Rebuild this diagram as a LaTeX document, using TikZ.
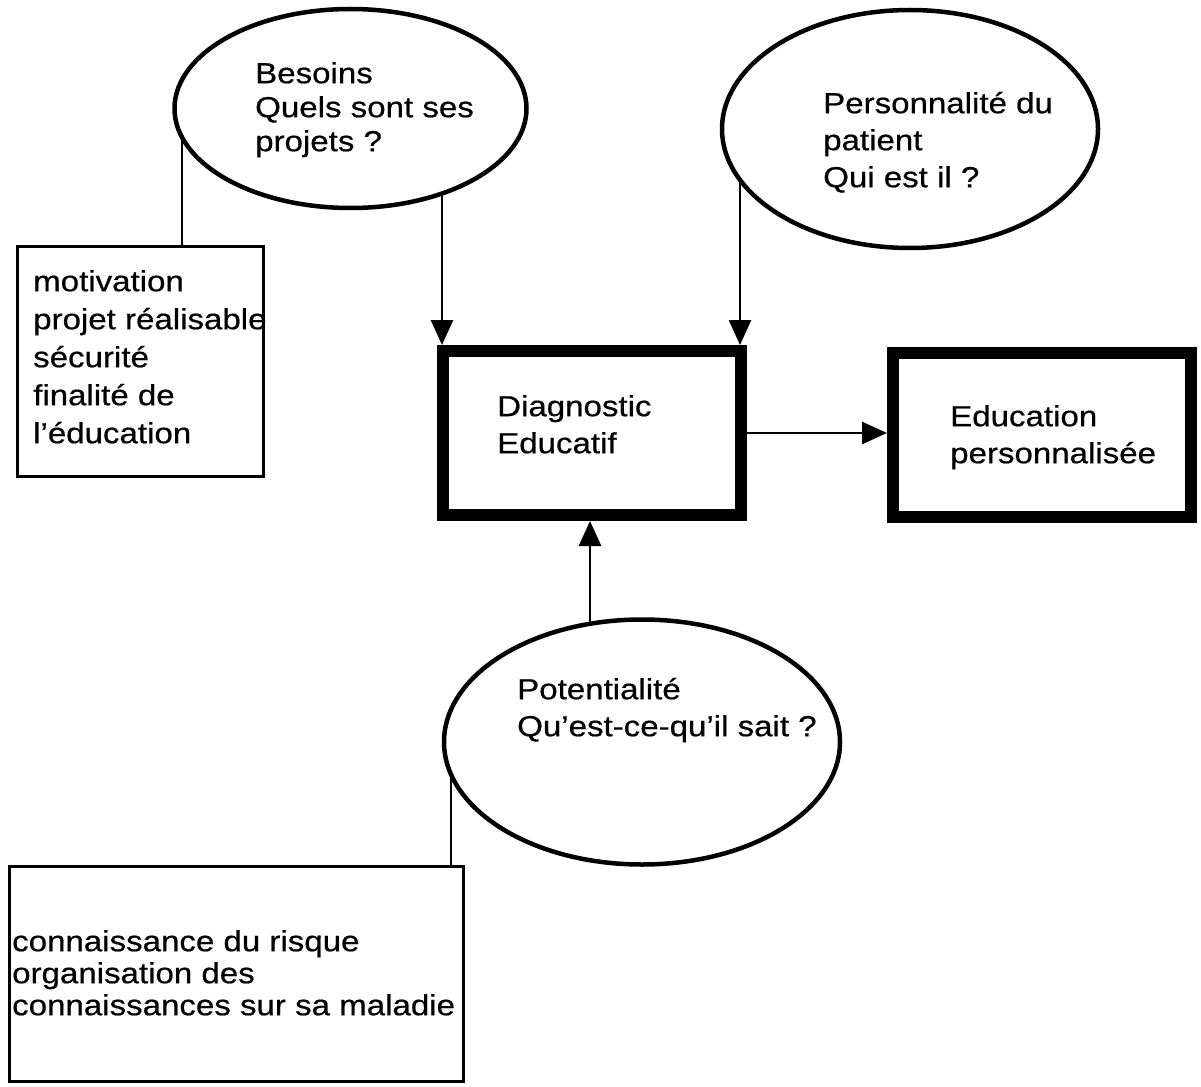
\documentclass[tikz,border=0pt]{standalone}
\usepackage{fontspec}
\setmainfont{Liberation Sans}[FakeStretch=1.14,FakeBold=0.6]
\usetikzlibrary{arrows.meta,shapes.geometric,backgrounds}
\newcommand\firstline{\rule{0pt}{24pt}}
\begin{document}
\begin{tikzpicture}[x=1pt,y=-1pt,
  bubble/.style={ellipse,draw,line width=4.5pt,fill=white,inner sep=0pt},
  thinbox/.style={rectangle,draw,line width=3pt,inner sep=0pt},
  thickbox/.style={rectangle,draw,line width=12pt,inner sep=0pt,minimum width=298pt,minimum height=164pt},
  txt/.style={anchor=north west,inner sep=0pt,align=left,font=\fontsize{29}{37}\selectfont},
  link/.style={line width=2.8pt},
  arr/.style={line width=2.8pt,-{Triangle[width=22pt,length=25pt]}},
]
\useasboundingbox (0,0) rectangle (1201,1086);

% shapes
\node[bubble,minimum width=352pt,minimum height=199pt] (e1) at (350.5,108.5) {};
\node[bubble,minimum width=376pt,minimum height=238pt] (e2) at (910,129) {};
\node[bubble,minimum width=396pt,minimum height=245pt] (e3) at (642,742) {};
\node[thinbox,minimum width=246pt,minimum height=230pt] (b1) at (140.5,361.5) {};
\node[thinbox,minimum width=454pt,minimum height=215pt] (b2) at (236.5,974) {};
\node[thickbox] (d) at (592,433) {};
\node[thickbox] (ed) at (1042,435) {};

% texts
\node[txt,font=\fontsize{29}{34}\selectfont] (t1) at (255,59) {\firstline Besoins\\Quels sont ses\\projets ?};
\node[txt] (t2) at (823,89) {\firstline Personnalité du\\patient\\Qui est il ?};
\node[txt] (t3) at (497,392) {\firstline Diagnostic\\Educatif};
\node[txt] (t4) at (950,402) {\firstline Education\\personnalisée};
\node[txt] (t5) at (517,675) {\firstline Potentialité\\Qu’est-ce-qu’il sait ?};
\node[txt,font=\fontsize{29}{38}\selectfont] (t6) at (33,267) {\firstline motivation\\projet réalisable\\sécurité\\finalité de\\l’éducation};
\node[txt,font=\fontsize{29}{32}\selectfont] (t7) at (12,927) {\firstline connaissance du risque\\organisation des\\connaissances sur sa maladie};

% connectors
\begin{scope}[on background layer]
\draw[link] ([xshift=166pt]b1.north west) -- ([xshift=166pt]b1.north west |- e1.center);
\draw[link] ([xshift=-14pt]b2.north east) -- ([xshift=-14pt]b2.north east |- e3.center);
\draw[arr] ([xshift=5pt]d.north west |- e1.center) -- ([xshift=5pt]d.north west);
\draw[arr] ([xshift=-7pt]d.north east |- e2.center) -- ([xshift=-7pt]d.north east);
\draw[arr] ([xshift=-2pt]d.south |- e3.center) -- ([xshift=-2pt]d.south);
\draw[arr] (d.east) -- (ed.west |- d.east);
\end{scope}
\end{tikzpicture}
\end{document}
